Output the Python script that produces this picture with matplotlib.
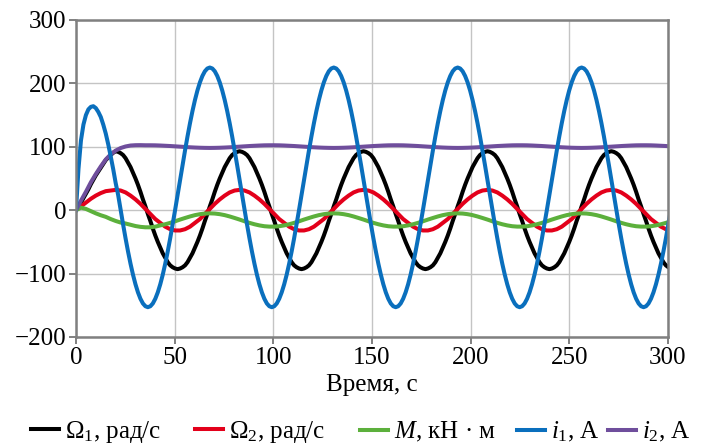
import numpy as np
import matplotlib
matplotlib.use("Agg")
import matplotlib.pyplot as plt

plt.rcParams['font.family'] = ['Liberation Serif', 'DejaVu Serif']
plt.rcParams['mathtext.fontset'] = 'custom'
plt.rcParams['mathtext.rm'] = 'Liberation Serif'
plt.rcParams['mathtext.it'] = 'Liberation Serif:italic'
plt.rcParams['font.size'] = 18

# sample grids, s
time_coarse = np.arange(121) * 2.512
time_fine = np.arange(241) * 1.256

# Omega_1, rad/s (fine grid)
omega1 = [0, 6, 12, 19, 26, 33, 41, 48, 55, 61, 67, 73, 79, 83, 87, 90.5,
          93, 92, 90, 87, 82, 75, 68, 59, 50, 40, 29, 17, 6, -6, -17, -29, -40, -50, -59, -68, -75, -82, -87, -90, -92,
          -93, -92, -90, -87, -82, -75, -68, -59, -50, -40, -29, -17, -6, 6, 17, 29, 40, 50, 59, 68, 75, 82, 87, 90, 92,
          93, 92, 90, 87, 82, 75, 68, 59, 50, 40, 29, 17, 6, -6, -17, -29, -40, -50, -59, -68, -75, -82, -87, -90, -92,
          -93, -92, -90, -87, -82, -75, -68, -59, -50, -40, -29, -17, -6, 6, 17, 29, 40, 50, 59, 68, 75, 82, 87, 90, 92,
          93, 92, 90, 87, 82, 75, 68, 59, 50, 40, 29, 17, 6, -6, -17, -29, -40, -50, -59, -68, -75, -82, -87, -90, -92,
          -93, -92, -90, -87, -82, -75, -68, -59, -50, -40, -29, -17, -6, 6, 17, 29, 40, 50, 59, 68, 75, 82, 87, 90, 92,
          93, 92, 90, 87, 82, 75, 68, 59, 50, 40, 29, 17, 6, -6, -17, -29, -40, -50, -59, -68, -75, -82, -87, -90, -92,
          -93, -92, -90, -87, -82, -75, -68, -59, -50, -40, -29, -17, -6, 6, 17, 29, 40, 50, 59, 68, 75, 82, 87, 90, 92,
          93, 92, 90, 87, 82, 75, 68, 59, 50, 40, 29, 17, 6, -6, -17, -29, -40, -50, -59, -68, -75, -82, -87, -90, -92]

# Omega_2, rad/s (coarse grid)
omega2 = [0, 6, 12, 18, 23, 27, 30, 31,
          32, 31, 28, 23, 17, 10, 2, -6, -14, -20, -26, -30, -32, -32, -30, -26, -20, -14, -6, 2, 10, 17, 23, 28, 31,
          32, 31, 28, 23, 17, 10, 2, -6, -14, -20, -26, -30, -32, -32, -30, -26, -20, -14, -6, 2, 10, 17, 23, 28, 31,
          32, 31, 28, 23, 17, 10, 2, -6, -14, -20, -26, -30, -32, -32, -30, -26, -20, -14, -6, 2, 10, 17, 23, 28, 31,
          32, 31, 28, 23, 17, 10, 2, -6, -14, -20, -26, -30, -32, -32, -30, -26, -20, -14, -6, 2, 10, 17, 23, 28, 31,
          32, 31, 28, 23, 17, 10, 2, -6, -14, -20, -26, -30, -32]

# M, kN*m (coarse grid)
torque = [0, 4, 2, -1.5, -5, -8, -10.5, -14, -17, -19.5, -21, -23, -25, -26.3, -27, -27, -26,
          -24.0, -22.2, -20.0, -17.5, -14.8, -12.3, -9.9, -7.8, -6.3, -5.3,
          -5.0, -5.3, -6.3, -7.8, -9.9, -12.3, -14.8, -17.5, -20.0, -22.2, -24.0, -25.3, -25.9,
          -25.9, -25.3, -24.0, -22.2, -20.0, -17.5, -14.8, -12.3, -9.9, -7.8, -6.3, -5.3,
          -5.0, -5.3, -6.3, -7.8, -9.9, -12.3, -14.8, -17.5, -20.0, -22.2, -24.0, -25.3, -25.9,
          -25.9, -25.3, -24.0, -22.2, -20.0, -17.5, -14.8, -12.3, -9.9, -7.8, -6.3, -5.3,
          -5.0, -5.3, -6.3, -7.8, -9.9, -12.3, -14.8, -17.5, -20.0, -22.2, -24.0, -25.3, -25.9,
          -25.9, -25.3, -24.0, -22.2, -20.0, -17.5, -14.8, -12.3, -9.9, -7.8, -6.3, -5.3,
          -5.0, -5.3, -6.3, -7.8, -9.9, -12.3, -14.8, -17.5, -20.0, -22.2, -24.0, -25.3, -25.9,
          -25.9, -25.3, -24.0, -22.2, -20.0, -17.5]

# i_1, A (fine grid)
current1 = [0, 65, 110, 135, 150, 159, 163, 164, 161, 155, 147, 135, 121, 104, 85, 65, 43,
            24.1, 0.6, -22.4, -44.5, -65.3, -84.5, -101.8, -116.9, -129.6, -139.7, -147.1, -151.5, -153,
            -151.5, -147.1, -139.7, -129.6, -116.9, -101.8, -84.5, -65.3, -44.5, -22.4, 0.6, 24.1,
            47.9, 71.4, 94.4, 116.5, 137.3, 156.5, 173.8, 188.9, 201.6, 211.7, 219.1, 223.5,
            225, 223.5, 219.1, 211.7, 201.6, 188.9, 173.8, 156.5, 137.3, 116.5, 94.4, 71.4, 47.9, 24.1, 0.6,
            -22.4, -44.5, -65.3, -84.5, -101.8, -116.9, -129.6, -139.7, -147.1, -151.5, -153,
            -151.5, -147.1, -139.7, -129.6, -116.9, -101.8, -84.5, -65.3, -44.5, -22.4, 0.6, 24.1,
            47.9, 71.4, 94.4, 116.5, 137.3, 156.5, 173.8, 188.9, 201.6, 211.7, 219.1, 223.5,
            225, 223.5, 219.1, 211.7, 201.6, 188.9, 173.8, 156.5, 137.3, 116.5, 94.4, 71.4, 47.9, 24.1, 0.6,
            -22.4, -44.5, -65.3, -84.5, -101.8, -116.9, -129.6, -139.7, -147.1, -151.5, -153,
            -151.5, -147.1, -139.7, -129.6, -116.9, -101.8, -84.5, -65.3, -44.5, -22.4, 0.6, 24.1,
            47.9, 71.4, 94.4, 116.5, 137.3, 156.5, 173.8, 188.9, 201.6, 211.7, 219.1, 223.5,
            225, 223.5, 219.1, 211.7, 201.6, 188.9, 173.8, 156.5, 137.3, 116.5, 94.4, 71.4, 47.9, 24.1, 0.6,
            -22.4, -44.5, -65.3, -84.5, -101.8, -116.9, -129.6, -139.7, -147.1, -151.5, -153,
            -151.5, -147.1, -139.7, -129.6, -116.9, -101.8, -84.5, -65.3, -44.5, -22.4, 0.6, 24.1,
            47.9, 71.4, 94.4, 116.5, 137.3, 156.5, 173.8, 188.9, 201.6, 211.7, 219.1, 223.5,
            225, 223.5, 219.1, 211.7, 201.6, 188.9, 173.8, 156.5, 137.3, 116.5, 94.4, 71.4, 47.9, 24.1, 0.6,
            -22.4, -44.5, -65.3, -84.5, -101.8, -116.9, -129.6, -139.7, -147.1, -151.5, -153,
            -151.5, -147.1, -139.7, -129.6, -116.9, -101.8, -84.5, -65.3, -44.5, -22.4, 0.6]

# i_2, A (coarse grid)
current2 = [0, 15, 29, 44, 57, 69, 80, 88, 94, 98, 100.5, 102, 102.5, 102.6,
            102.4, 102.4, 102.3, 102.0, 101.6, 101.2, 100.7, 100.2, 99.7, 99.2, 98.8, 98.5, 98.3,
            98.2, 98.3, 98.5, 98.8, 99.2, 99.7, 100.2, 100.7, 101.2, 101.6, 102.0, 102.3, 102.4,
            102.4, 102.3, 102.0, 101.6, 101.2, 100.7, 100.2, 99.7, 99.2, 98.8, 98.5, 98.3,
            98.2, 98.3, 98.5, 98.8, 99.2, 99.7, 100.2, 100.7, 101.2, 101.6, 102.0, 102.3, 102.4,
            102.4, 102.3, 102.0, 101.6, 101.2, 100.7, 100.2, 99.7, 99.2, 98.8, 98.5, 98.3,
            98.2, 98.3, 98.5, 98.8, 99.2, 99.7, 100.2, 100.7, 101.2, 101.6, 102.0, 102.3, 102.4,
            102.4, 102.3, 102.0, 101.6, 101.2, 100.7, 100.2, 99.7, 99.2, 98.8, 98.5, 98.3,
            98.2, 98.3, 98.5, 98.8, 99.2, 99.7, 100.2, 100.7, 101.2, 101.6, 102.0, 102.3, 102.4,
            102.4, 102.3, 102.0, 101.6, 101.2, 100.7]

labels = [r'$\Omega_1$, рад/с', r'$\Omega_2$, рад/с', r'$M$, кН · м', r'$i_1$, А', r'$i_2$, А']
colors = ['#000000', '#e3001b', '#5cb03c', '#0a6fbd', '#6f4e9c']

fig = plt.figure(figsize=(7.05, 4.48), dpi=100)
ax = fig.add_axes([0.1078, 0.2478, 0.8397, 0.7076])

lw = 2.9
l1, = ax.plot(time_fine, omega1, color=colors[0], lw=lw, zorder=3)
l2, = ax.plot(time_coarse, omega2, color=colors[1], lw=lw, zorder=3)
l3, = ax.plot(time_coarse, torque, color=colors[2], lw=lw, zorder=3)
l5, = ax.plot(time_coarse, current2, color=colors[4], lw=lw, zorder=3)
l4, = ax.plot(time_fine, current1, color=colors[3], lw=lw, zorder=3)

ax.set_xlim(0, 300)
ax.set_ylim(-200, 300)
ax.set_xticks(range(0, 301, 50))
ax.set_yticks(range(-200, 301, 100))
ax.grid(True, color='#c4c4c4', lw=1)
ax.set_axisbelow(True)
for sp in ax.spines.values():
    sp.set_color('#808080')
    sp.set_linewidth(1.8)
    sp.set_zorder(4)
ax.tick_params(direction='out', length=5, width=1.4, color='#808080', labelsize=18, pad=2)
ax.set_xlabel('Время, с', fontsize=18, labelpad=4)

# legend entries placed one by one along the bottom
handles = [l1, l2, l3, l4, l5]
starts = [31, 195, 360, 517, 608]
for h, lab, x0 in zip(handles, labels, starts):
    fig.legend([h], [lab], loc='center left', bbox_to_anchor=(x0 / 705, 16 / 448),
               frameon=False, fontsize=18, handlelength=1.1, handletextpad=0.25,
               borderpad=0, borderaxespad=0)

fig.savefig('out.png', dpi=100)
